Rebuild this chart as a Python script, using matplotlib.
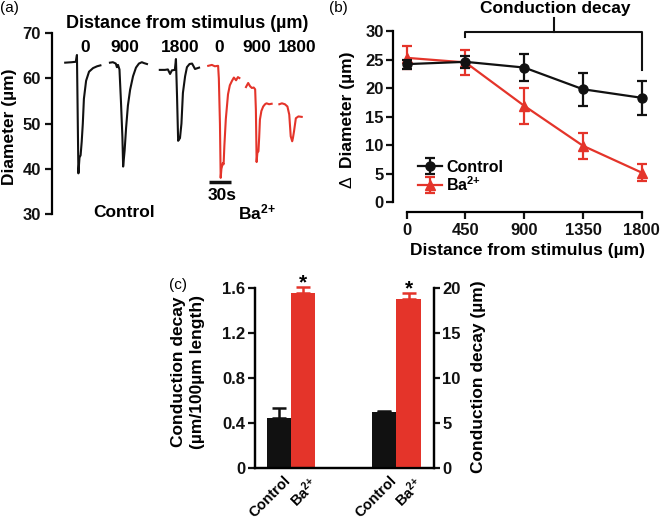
import matplotlib
matplotlib.use('Agg')
import matplotlib.pyplot as plt

plt.rcParams['font.family'] = ['Liberation Sans', 'DejaVu Sans']
plt.rcParams['font.weight'] = 'bold'
plt.rcParams['mathtext.default'] = 'regular'

W, H = 660, 520
def fx(px): return px / W
def fy(py): return 1 - py / H
def box(l, t, r, b): return [l / W, 1 - b / H, (r - l) / W, (b - t) / H]

BLACK = '#111111'
RED = '#e4342a'

# ---------------- panel (a): diameter traces (time in s, diameter in µm)
ctl0_t = [18, 27, 32.5, 34, 34.8, 36, 37.5, 39, 40.5, 42, 43.5, 46.5, 50.5, 56, 61.5, 66]
ctl0_d = [63.5, 63.6, 63.7, 65.2, 55.0, 39.0, 42.5, 43.0, 46.0, 50.0, 55.5, 59.5, 61.5, 62.3, 62.7, 62.9]
ctl900_t = [79, 83, 87, 88.5, 90, 92, 94, 96, 97, 99, 101, 103.5, 106.5, 110.5, 114.5, 118.5, 122.5, 125.5, 129.5]
ctl900_d = [63.5, 63.6, 63.3, 62.5, 63.0, 62.0, 55.0, 47.0, 40.5, 44.0, 49.0, 54.0, 57.5, 60.5, 62.4, 63.3, 63.6, 63.4, 63.2]
ctl1800_t = [147, 154, 158, 161, 163.5, 167.5, 169, 170.5, 172, 174.5, 176.5, 178.5, 181.5, 184, 187.5, 191, 195, 200.5]
ctl1800_d = [61.9, 61.9, 62.0, 61.0, 61.8, 61.9, 64.3, 56.0, 46.2, 46.8, 50.0, 56.8, 60.5, 62.5, 63.2, 63.3, 62.1, 62.4]
ba0_t = [213, 218, 222, 226.5, 227.5, 229, 230, 231, 233, 234, 235, 237, 240, 242.5, 245.5, 248, 251, 253.5, 255.5]
ba0_d = [62.8, 63.0, 62.7, 62.8, 60.0, 50.0, 38.0, 40.0, 41.3, 41.0, 45.0, 51.0, 56.5, 58.5, 59.5, 60.2, 59.6, 60.3, 60.1]
ba900_t = [264.5, 267.5, 270, 272.5, 275, 277, 278, 279, 280, 281.5, 282.5, 283.5, 285.5, 288, 290.5, 292.5, 296, 299.5]
ba900_d = [58.1, 59.0, 58.3, 57.9, 58.0, 57.6, 53.1, 41.5, 43.5, 43.9, 47.0, 50.9, 52.8, 53.8, 54.3, 54.5, 54.3, 54.4]
ba1800_t = [310, 313.5, 317.5, 321, 323.5, 325.5, 327.5, 328.5, 330, 332.5, 336, 340.5]
ba1800_d = [54.3, 54.5, 54.3, 53.8, 52.0, 47.2, 46.1, 46.8, 48.3, 51.2, 51.6, 51.5]
trace_dist_labels = ['0', '900', '1800', '0', '900', '1800']
diam_ticks = [30, 40, 50, 60, 70]
scale_bar_s = 30

# ---------------- panel (b): Δ diameter vs distance
dist = [0, 450, 900, 1350, 1800]
ctl_mean = [24.2, 24.6, 23.6, 19.8, 18.3]
ctl_sem = [0.8, 1.0, 2.3, 2.9, 3.0]
ba_mean = [25.3, 24.5, 16.9, 9.9, 5.2]
ba_sem = [2.0, 2.2, 3.1, 2.3, 1.5]
delta_ticks = [0, 5, 10, 15, 20, 25, 30]

# ---------------- panel (c): conduction decay
BA = 'Ba$^{2{+}}$'
cond_labels = ['Control', BA]
rate_mean = [0.444, 1.561]     # µm/100µm length
rate_sem = [0.095, 0.048]
decay_mean = [6.22, 18.81]     # µm
decay_sem = [0.15, 0.70]
rate_ticks = [0, 0.4, 0.8, 1.2, 1.6]
decay_ticks = [0, 5, 10, 15, 20]

fig = plt.figure(figsize=(6.6, 5.2), dpi=100)

TICK_FS = 12
LAB_FS = 12.5
LW = 1.6

def style(ax):
    for s in ax.spines.values():
        s.set_linewidth(LW)
    ax.tick_params(width=LW, length=5, labelsize=TICK_FS, colors=BLACK)

# ===== panel (a)
axa = fig.add_axes(box(52, 33.3, 318, 214))
style(axa)
for t, d in [(ctl0_t, ctl0_d), (ctl900_t, ctl900_d), (ctl1800_t, ctl1800_d)]:
    axa.plot(t, d, color=BLACK, lw=1.5, solid_joinstyle='round')
for t, d in [(ba0_t, ba0_d), (ba900_t, ba900_d), (ba1800_t, ba1800_d)]:
    axa.plot(t, d, color=RED, lw=1.5, solid_joinstyle='round')
axa.set_xlim(0, 362.7)
axa.set_ylim(30, 70)
axa.set_yticks(diam_ticks)
axa.spines[['top', 'right', 'bottom']].set_visible(False)
axa.set_xticks([])
axa.tick_params(axis='y', pad=3)
# scale bar
axa.plot([214, 214 + scale_bar_s], [37.0, 37.0], color=BLACK, lw=2.5, clip_on=False,
         solid_capstyle='butt')
fig.text(fx(222), fy(196), '30s', ha='center', va='center', fontsize=LAB_FS)
fig.text(fx(124), fy(212.5), 'Control', ha='center', va='center', fontsize=LAB_FS)
fig.text(fx(257), fy(212.5), BA, ha='center', va='center', fontsize=LAB_FS)
fig.text(fx(187), fy(23.5), 'Distance from stimulus (µm)', ha='center', va='center',
         fontsize=13)
for lab, px in zip(trace_dist_labels, [85, 125, 180, 219, 257, 297]):
    fig.text(fx(px), fy(47), lab, ha='center', va='center', fontsize=LAB_FS)
fig.text(fx(9.5), fy(127), 'Diameter (µm)', rotation=90, ha='center', va='center',
         fontsize=LAB_FS)
fig.text(0.0, fy(8), '(a)', ha='left', va='center', fontsize=11, fontweight='normal')

# ===== panel (b)
axb = fig.add_axes(box(393.3, 31, 655, 211.5))
style(axb)
axb.errorbar(dist, ba_mean, yerr=ba_sem, color=RED, marker='^', ms=7.5, lw=1.6,
             capsize=3.5, capthick=1.6, elinewidth=1.6, label=BA, zorder=3,
             clip_on=False)
axb.errorbar(dist, ctl_mean, yerr=ctl_sem, color=BLACK, marker='o', ms=6.5, lw=1.6,
             capsize=3.5, capthick=1.6, elinewidth=1.6, label='Control', zorder=4,
             clip_on=False)
axb.set_xlim(-102.6, (655 - 406.7) / 0.13056)
axb.set_ylim(-(211.5 - 202.3) / 5.71, 30)
axb.set_xticks(dist)
axb.set_yticks(delta_ticks)
axb.spines[['top', 'right']].set_visible(False)
axb.spines['left'].set_bounds(0, 30)
axb.spines['bottom'].set_bounds(0, 1800)
axb.tick_params(axis='y', pad=2)
axb.tick_params(axis='x', pad=3)
h, l = axb.get_legend_handles_labels()
leg = axb.legend(h[::-1], l[::-1], loc='upper left', bbox_to_anchor=(fx(418), fy(160)),
                 bbox_transform=fig.transFigure, frameon=False, fontsize=11.5,
                 handlelength=1.5, handletextpad=0.25, labelspacing=0.0,
                 borderpad=0, borderaxespad=0)
# bracket
x0, x1 = dist[1], dist[-1]
xm = (x0 + x1) / 2
axb.plot([x0, x0, x1, x1], [29.0, 29.9, 29.9, 23.2], color=BLACK, lw=1.5, clip_on=False)
axb.plot([xm, xm], [29.9, 32.2], color=BLACK, lw=1.5, clip_on=False)
fig.text(fx(555), fy(8.5), 'Conduction decay', ha='center', va='center', fontsize=LAB_FS)
fig.text(fx(528), fy(250), 'Distance from stimulus (µm)', ha='center', va='center',
         fontsize=LAB_FS)
fig.text(fx(347.5), fy(182), 'Δ', rotation=90, ha='center', va='center',
         fontsize=LAB_FS, fontweight='normal')
fig.text(fx(347.5), fy(110), 'Diameter (µm)', rotation=90, ha='center', va='center',
         fontsize=LAB_FS)
fig.text(fx(338), fy(8), '(b)', ha='center', va='center', fontsize=11, fontweight='normal')

# ===== panel (c)
axc = fig.add_axes(box(255, 288.3, 434, 468.3))
style(axc)
axr = axc.twinx()
style(axr)
pos_rate = [0, 1]
pos_decay = [4.3, 5.3]
colors = [BLACK, RED]
axc.bar(pos_rate, rate_mean, width=1.0, color=colors, zorder=2)
axr.bar(pos_decay, decay_mean, width=1.0, color=colors, zorder=2)
for p, m, e, c in zip(pos_rate, rate_mean, rate_sem, colors):
    axc.errorbar([p], [m], yerr=[[0], [e]], color=c, capsize=5, capthick=1.8,
                 elinewidth=1.8, fmt='none', clip_on=False, zorder=1)
for p, m, e, c in zip(pos_decay, decay_mean, decay_sem, colors):
    axr.errorbar([p], [m], yerr=[[0], [e]], color=c, capsize=5, capthick=1.8,
                 elinewidth=1.8, fmt='none', clip_on=False, zorder=1)
axc.annotate('*', xy=(pos_rate[1], rate_mean[1] + rate_sem[1]), xytext=(0, -4),
             textcoords='offset points', ha='center', va='bottom', fontsize=15,
             annotation_clip=False)
axr.annotate('*', xy=(pos_decay[1], decay_mean[1] + decay_sem[1]), xytext=(0, -4),
             textcoords='offset points', ha='center', va='bottom', fontsize=15,
             annotation_clip=False)
axc.set_xlim(-0.97, 6.34)
axc.set_ylim(0, 1.6)
axr.set_ylim(0, 20)
axc.set_yticks(rate_ticks)
axc.set_yticklabels(['0', '0.4', '0.8', '1.2', '1.6'])
axr.set_yticks(decay_ticks)
axc.spines['top'].set_visible(False)
axr.spines['top'].set_visible(False)
axc.set_xticks(pos_rate + pos_decay)
axc.set_xticklabels([])
axc.tick_params(axis='x', length=0)
axc.tick_params(axis='y', pad=2)
axr.tick_params(axis='y', pad=2, length=4)
for p, lab in zip(pos_rate + pos_decay, cond_labels + cond_labels):
    axc.annotate(lab, xy=(p, 0), xycoords='data', xytext=(3.5, -4), textcoords='offset points',
                 rotation=45, rotation_mode='anchor', ha='right', va='top',
                 fontsize=10.5, annotation_clip=False)
fig.text(fx(178.5), fy(372), 'Conduction decay', rotation=90, ha='center', va='center',
         fontsize=LAB_FS)
fig.text(fx(197.5), fy(372), '(µm/100µm length)', rotation=90, ha='center', va='center',
         fontsize=LAB_FS)
fig.text(fx(479), fy(377), 'Conduction decay (µm)', rotation=90, ha='center', va='center',
         fontsize=LAB_FS)
fig.text(fx(177.5), fy(285), '(c)', ha='center', va='center', fontsize=11, fontweight='normal')

fig.savefig('out.png', dpi=100)
